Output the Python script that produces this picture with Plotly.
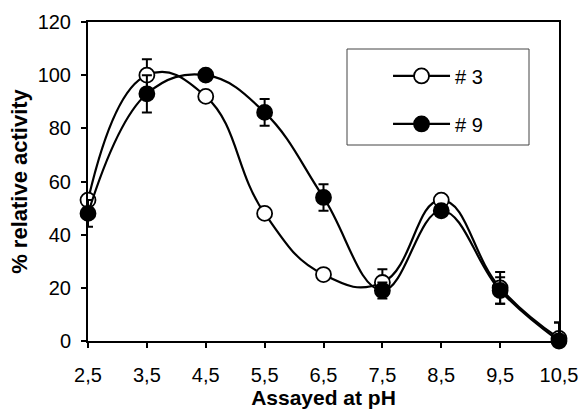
import plotly.graph_objects as go

ph = [2.5, 3.5, 4.5, 5.5, 6.5, 7.5, 8.5, 9.5, 10.5]
tick_labels = ["2,5", "3,5", "4,5", "5,5", "6,5", "7,5", "8,5", "9,5", "10,5"]

s3_values = [53, 100, 92, 48, 25, 22, 53, 20, 1]
s3_err = [0, 6, 0, 0, 2, 5, 0, 6, 6]

s9_values = [48, 93, 100, 86, 54, 19, 49, 19, 0]
s9_err = [5, 7, 0, 5, 5, 3, 0, 5, 7]

fig = go.Figure()

fig.add_trace(go.Scatter(
    x=ph, y=s3_values, name="# 3", mode="lines+markers",
    line=dict(color="black", width=2.2, shape="spline", smoothing=1.3),
    marker=dict(symbol="circle", size=15, color="white", line=dict(color="black", width=1.8)),
    error_y=dict(type="data", array=s3_err, visible=True, color="black", thickness=2, width=5),
    cliponaxis=False, legendgroup="a",
))
fig.add_trace(go.Scatter(
    x=ph, y=s9_values, name="# 9", mode="lines+markers",
    line=dict(color="black", width=2.2, shape="spline", smoothing=1.15),
    marker=dict(symbol="circle", size=15, color="black", line=dict(color="black", width=1.8)),
    error_y=dict(type="data", array=s9_err, visible=True, color="black", thickness=2, width=5),
    cliponaxis=False, legendgroup="b",
))

fig.update_layout(
    width=581, height=414,
    margin=dict(l=88, r=22, t=22, b=73),
    paper_bgcolor="white", plot_bgcolor="white",
    font=dict(family="Arial, Liberation Sans, sans-serif", size=20, color="black"),
    showlegend=True,
    legend=dict(
        x=0.637, y=0.892, xanchor="left", yanchor="top",
        bgcolor="rgba(0,0,0,0)", borderwidth=0,
        font=dict(size=20), itemwidth=57, tracegroupgap=19,
    ),
    shapes=[dict(type="rect", xref="paper", yref="paper",
                 x0=(347 - 88) / 471, x1=(529 - 88) / 471,
                 y0=(341 - 145) / 319, y1=(341 - 49) / 319,
                 line=dict(color="#444", width=1), fillcolor="rgba(0,0,0,0)")],
)

fig.update_xaxes(
    range=[2.5, 10.5], tickvals=ph, ticktext=tick_labels,
    showline=True, linecolor="black", linewidth=2, mirror=True,
    ticks="outside", ticklen=5, tickwidth=1.5, tickcolor="black",
    ticklabelstandoff=10, automargin=False,
    showgrid=False, zeroline=False,
    title=dict(text="<b>Assayed at pH</b>", font=dict(size=21), standoff=5),
)
fig.update_yaxes(
    range=[0, 120], dtick=20,
    showline=True, linecolor="black", linewidth=2, mirror=True,
    ticks="outside", ticklen=5, tickwidth=1.5, tickcolor="black",
    ticklabelstandoff=6, automargin=False,
    showgrid=False, zeroline=False,
    title=dict(text="<b>% relative activity</b>", font=dict(size=22), standoff=4),
)

fig.write_html("out.html")
